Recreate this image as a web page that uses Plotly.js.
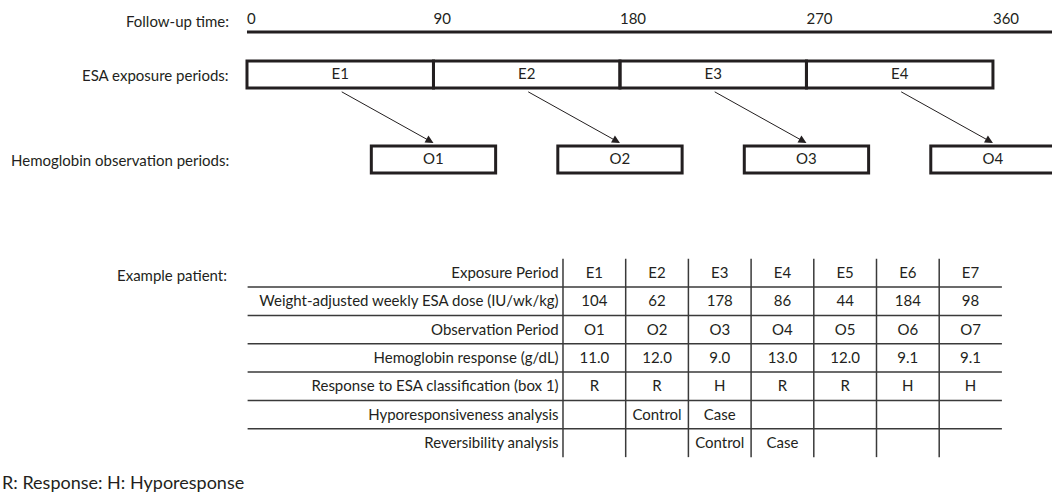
<!DOCTYPE html>
<html>
<head>
<meta charset="utf-8">
<script src="https://cdn.plot.ly/plotly-3.0.1.min.js"></script>
<style>html,body{margin:0;padding:0;background:#fff;}#chart{width:1052px;height:492px;}</style>
</head>
<body>
<div id="chart"></div>
<script>
// ---- data ----
const followUpTicks = [0, 90, 180, 270, 360];
const exposureLabels = ['E1', 'E2', 'E3', 'E4'];
const exposureStart = [0, 90, 180, 270];
const exposureEnd = [90, 180, 270, 360];
const observationLabels = ['O1', 'O2', 'O3', 'O4'];
const observationStart = [60, 150, 240, 330];
const observationEnd = [120, 210, 300, 390];

const rowLabels = [
  'Exposure Period',
  'Weight-adjusted weekly ESA dose (IU/wk/kg)',
  'Observation Period',
  'Hemoglobin response (g/dL)',
  'Response to ESA classification (box 1)',
  'Hyporesponsiveness analysis',
  'Reversibility analysis'
];
const exposurePeriod = ['E1', 'E2', 'E3', 'E4', 'E5', 'E6', 'E7'];
const esaDose = [104, 62, 178, 86, 44, 184, 98];
const observationPeriod = ['O1', 'O2', 'O3', 'O4', 'O5', 'O6', 'O7'];
const hemoglobinResponse = [11.0, 12.0, 9.0, 13.0, 12.0, 9.1, 9.1];
const responseClass = ['R', 'R', 'H', 'R', 'R', 'H', 'H'];
const hyporesponsivenessAnalysis = ['', 'Control', 'Case', '', '', '', ''];
const reversibilityAnalysis = ['', '', 'Control', 'Case', '', '', ''];

// ---- styling ----
const FONT = 'Lato, "Open Sans", sans-serif';
const INK = '#231f20';
const GRID = '#3a3a3a';
const FS = 15;

const tableRows = [
  exposurePeriod,
  esaDose.map(String),
  observationPeriod,
  hemoglobinResponse.map(v => v.toFixed(1)),
  responseClass,
  hyporesponsivenessAnalysis,
  reversibilityAnalysis
];
const nCols = exposurePeriod.length;
const nRows = rowLabels.length;

const traces = [];
const shapes = [];
const annotations = [];

// follow-up timeline (x in days, y in pixels)
traces.push({
  x: followUpTicks, y: followUpTicks.map(() => 20), mode: 'text', type: 'scatter',
  text: followUpTicks.map(String), textposition: 'middle right',
  textfont: {family: FONT, size: FS, color: INK}, hoverinfo: 'skip', showlegend: false,
  xaxis: 'x', yaxis: 'y', cliponaxis: false
});
shapes.push({type: 'line', xref: 'x', yref: 'y', x0: followUpTicks[0], x1: 400, y0: 32, y1: 32,
  line: {color: INK, width: 3}});

// exposure boxes
exposureLabels.forEach((lab, i) => {
  shapes.push({type: 'rect', xref: 'x', yref: 'y', x0: exposureStart[i], x1: exposureEnd[i],
    y0: 61, y1: 88, line: {color: INK, width: 3}, fillcolor: 'rgba(0,0,0,0)'});
});
traces.push({
  x: exposureLabels.map((_, i) => (exposureStart[i] + exposureEnd[i]) / 2),
  y: exposureLabels.map(() => 75), mode: 'text', type: 'scatter', text: exposureLabels,
  textposition: 'middle center', textfont: {family: FONT, size: FS, color: INK},
  hoverinfo: 'skip', showlegend: false, xaxis: 'x', yaxis: 'y'
});

// observation boxes
observationLabels.forEach((lab, i) => {
  shapes.push({type: 'rect', xref: 'x', yref: 'y', x0: observationStart[i], x1: observationEnd[i],
    y0: 146, y1: 173, line: {color: INK, width: 3}, fillcolor: 'rgba(0,0,0,0)'});
});
traces.push({
  x: observationLabels.map((_, i) => (observationStart[i] + observationEnd[i]) / 2),
  y: observationLabels.map(() => 160), mode: 'text', type: 'scatter', text: observationLabels,
  textposition: 'middle center', textfont: {family: FONT, size: FS, color: INK},
  hoverinfo: 'skip', showlegend: false, xaxis: 'x', yaxis: 'y'
});

// arrows from exposure midpoint down to the observation box
exposureLabels.forEach((lab, i) => {
  annotations.push({
    xref: 'x', yref: 'y', axref: 'x', ayref: 'y',
    x: exposureEnd[i], y: 143, ax: (exposureStart[i] + exposureEnd[i]) / 2, ay: 91,
    text: '', showarrow: true, arrowhead: 2, arrowsize: 1.6, arrowwidth: 1, arrowcolor: INK,
    standoff: 0, startstandoff: 0
  });
});

// table (x2 in column units, y2 in row units)
for (let c = 0; c <= nCols - 1; c++) {
  shapes.push({type: 'line', xref: 'x2', yref: 'y2', x0: c, x1: c, y0: 0, y1: nRows,
    line: {color: GRID, width: 1.5}});
}
for (let r = 1; r < nRows; r++) {
  shapes.push({type: 'line', xref: 'x2', yref: 'y2', x0: -5.03, x1: nCols, y0: r, y1: r,
    line: {color: GRID, width: 1.5}});
}
const cx = [], cy = [], ct = [];
tableRows.forEach((row, r) => {
  row.forEach((v, c) => { cx.push(c + 0.5); cy.push(r + 0.55); ct.push(v); });
});
traces.push({
  x: cx, y: cy, text: ct, mode: 'text', type: 'scatter', textposition: 'middle center',
  textfont: {family: FONT, size: FS, color: INK}, hoverinfo: 'skip', showlegend: false,
  xaxis: 'x2', yaxis: 'y2'
});
traces.push({
  x: rowLabels.map(() => -0.07), y: rowLabels.map((_, r) => r + 0.55), text: rowLabels,
  mode: 'text', type: 'scatter', textposition: 'middle left',
  textfont: {family: FONT, size: FS, color: INK}, hoverinfo: 'skip', showlegend: false,
  xaxis: 'x2', yaxis: 'y2', cliponaxis: false
});

// side labels
const sideLabels = [
  {text: 'Follow-up time:', x: 231, y: 21},
  {text: 'ESA exposure periods:', x: 231, y: 75},
  {text: 'Hemoglobin observation periods:', x: 231, y: 160},
  {text: 'Example patient:', x: 229, y: 275}
];
sideLabels.forEach(l => annotations.push({
  xref: 'paper', yref: 'y', x: l.x / 1052, y: l.y, xanchor: 'right', yanchor: 'middle',
  text: l.text, showarrow: false, font: {family: FONT, size: FS, color: INK}
}));
annotations.push({
  xref: 'paper', yref: 'y', x: 0, y: 482, xanchor: 'left', yanchor: 'middle',
  text: 'R: Response: H: Hyporesponse', showarrow: false,
  font: {family: FONT, size: 18, color: INK}
});

const layout = {
  width: 1052, height: 492,
  margin: {l: 0, r: 0, t: 0, b: 0},
  paper_bgcolor: '#fff', plot_bgcolor: '#fff',
  showlegend: false,
  xaxis: {range: [-119.2, 388.5], visible: false, fixedrange: true},
  yaxis: {range: [492, 0], visible: false, fixedrange: true},
  xaxis2: {range: [-8.979, 7.799], overlaying: 'x', visible: false, fixedrange: true},
  yaxis2: {range: [8.23, -9.13], overlaying: 'y', visible: false, fixedrange: true},
  shapes: shapes,
  annotations: annotations
};

Plotly.newPlot('chart', traces, layout, {displayModeBar: false, staticPlot: true});
</script>
</body>
</html>
